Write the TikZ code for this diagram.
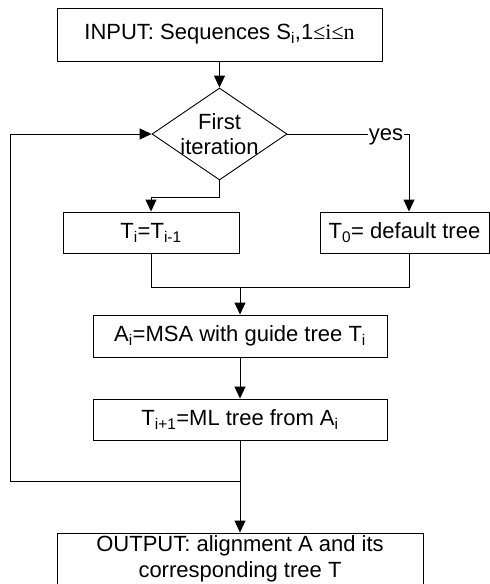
\documentclass[tikz,border=0pt]{standalone}
\usepackage{fontspec}
\setmainfont{Liberation Sans}
\newfontfamily\serifpart{Liberation Serif}
\usetikzlibrary{shapes.geometric,arrows.meta}

\begin{document}
\begin{tikzpicture}[x=1pt,y=-1pt,
  every node/.style={font=\fontsize{22}{26}\selectfont},
  procbox/.style={draw, line width=0.9pt, rectangle, inner sep=0pt, align=center},
  decbox/.style={draw, line width=0.9pt, diamond, inner sep=0pt},
  flow/.style={line width=0.9pt, -{Triangle[length=12pt,width=11pt]}},
  link/.style={line width=0.9pt}]
  \useasboundingbox (0,0) rectangle (490,584);

  % process steps
  \node[procbox, minimum width=325pt, minimum height=53pt] (input) at (219.5,34.5)
    {INPUT: Sequences S\textsubscript{i},1{\serifpart ≤i≤n}};
  \node[decbox, minimum width=135pt, minimum height=92pt] (dec) at (219.5,134) {};
  \node[align=center, inner sep=0pt, font=\fontsize{22}{25}\selectfont] (dectext) at (dec.center) {First\\iteration};
  \node[procbox, minimum width=176pt, minimum height=41pt] (ti) at (151,232.5)
    {T\textsubscript{i}=T\textsubscript{i-1}};
  \node[procbox, minimum width=169pt, minimum height=41pt] (t0) at (404.5,232.5)
    {T\textsubscript{0}= default tree};
  \node[procbox, minimum width=294pt, minimum height=42pt] (ai) at (240,336)
    {A\textsubscript{i}=MSA with guide tree T\textsubscript{i}};
  \node[procbox, minimum width=294pt, minimum height=41pt] (tn) at (240,419.5)
    {T\textsubscript{i+1}=ML tree from A\textsubscript{i}};
  \node[procbox, minimum width=366pt, minimum height=51pt] (out) at (240,558.5)
    {OUTPUT: alignment A and its\\corresponding tree T};

  % routing points
  \coordinate (rc) at (409,0);
  \coordinate (lc) at (10,0);
  \coordinate (nobend) at (219.5,197);
  \coordinate (merge) at (240,287);
  \coordinate (loop) at (240,481);

  % connectors
  \draw[flow] (input.south) -- (dec.north);
  \draw[flow] (dec.south) -- (nobend) -| (ti.north);
  \draw[flow] (dec.east) -- (dec.east -| rc) -- (t0.north -| rc);
  \node[fill=white, inner sep=1pt] (yes) at (386,137) {yes};
  \draw[link] (ti.south) |- (merge -| rc) -- (t0.south -| rc);
  \draw[flow] (merge) -- (ai.north);
  \draw[flow] (ai.south) -- (tn.north);
  \draw[flow] (tn.south) -- (out.north);
  \draw[flow] (loop) -- (loop -| lc) -- (dec.west -| lc) -- (dec.west);
\end{tikzpicture}
\end{document}
